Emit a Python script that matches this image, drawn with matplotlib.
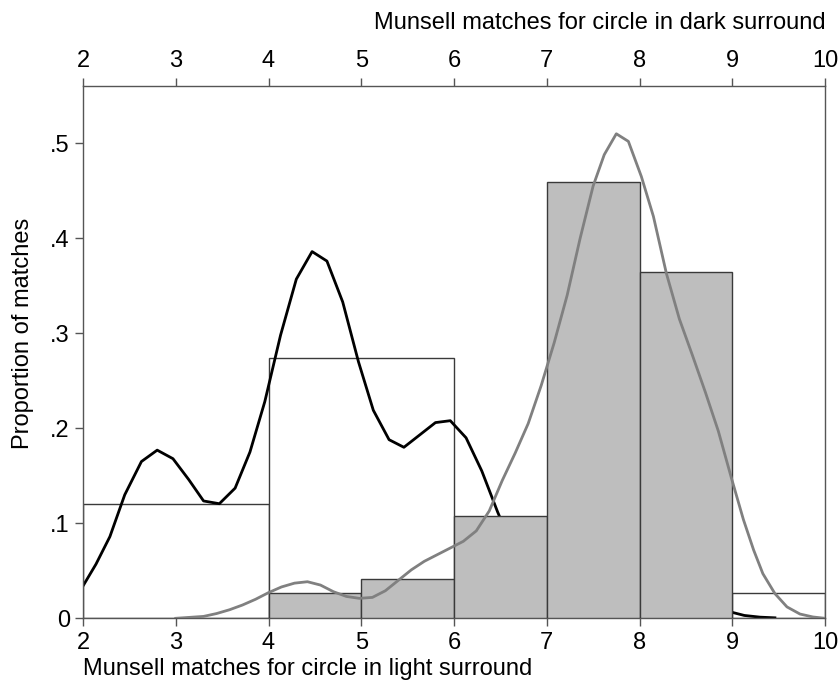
import matplotlib
matplotlib.use("Agg")
import matplotlib.pyplot as plt
import numpy as np

plt.rcParams['font.family'] = ['Liberation Sans', 'DejaVu Sans']

# Histogram: light surround (white bars)
light_edges = [2, 4, 6]
light_heights = [0.12, 0.274]
# extra open bar at 9-10
extra_edges = [9, 10]
extra_heights = [0.027]

# Histogram: dark surround (gray bars)
dark_edges = [4, 5, 6, 7, 8, 9]
dark_heights = [0.027, 0.041, 0.108, 0.459, 0.364]

# Density curve: light surround (black)
light_x = [2.00, 2.14, 2.29, 2.45, 2.63, 2.80, 2.97, 3.14, 3.30, 3.47, 3.64, 3.80,
           3.96, 4.13, 4.30, 4.47, 4.63, 4.80, 4.97, 5.13, 5.30, 5.46, 5.63, 5.80,
           5.96, 6.13, 6.30, 6.47, 6.63, 6.80, 6.97, 7.13, 7.30, 7.47, 7.63, 7.80,
           7.97, 8.13, 8.30, 8.47, 8.63, 8.80, 8.97, 9.13, 9.30, 9.46]
light_y = [0.034, 0.057, 0.086, 0.130, 0.165, 0.177, 0.168, 0.146, 0.1235, 0.1206, 0.137, 0.175,
           0.228, 0.298, 0.357, 0.386, 0.376, 0.333, 0.270, 0.219, 0.188, 0.180, 0.193, 0.206,
           0.208, 0.190, 0.155, 0.112, 0.075, 0.050, 0.035, 0.028, 0.022, 0.018, 0.016, 0.015,
           0.015, 0.014, 0.013, 0.011, 0.010, 0.008, 0.007, 0.003, 0.0012, 0.0005]

# Density curve: dark surround (gray)
dark_x = [3.00, 3.15, 3.30, 3.44, 3.58, 3.72, 3.86, 4.00, 4.14, 4.28, 4.42, 4.56, 4.70,
          4.84, 4.98, 5.12, 5.26, 5.40, 5.54, 5.68, 5.82, 5.96, 6.10, 6.24, 6.38, 6.52,
          6.66, 6.80, 6.94, 7.08, 7.22, 7.36, 7.50, 7.62, 7.75, 7.88, 8.02, 8.15, 8.29,
          8.43, 8.57, 8.71, 8.85, 8.99, 9.12, 9.23, 9.33, 9.46, 9.59, 9.73, 9.87, 10.0]
dark_y = [0.000, 0.001, 0.002, 0.005, 0.009, 0.014, 0.020, 0.027, 0.033, 0.037, 0.0385, 0.035, 0.028,
          0.023, 0.021, 0.022, 0.029, 0.040, 0.051, 0.060, 0.067, 0.074, 0.081, 0.092, 0.113, 0.145,
          0.174, 0.205, 0.245, 0.290, 0.340, 0.400, 0.455, 0.488, 0.510, 0.502, 0.465, 0.423, 0.363,
          0.315, 0.277, 0.238, 0.197, 0.148, 0.104, 0.072, 0.047, 0.026, 0.012, 0.0045, 0.0014, 0.000]

xticks = [2, 3, 4, 5, 6, 7, 8, 9, 10]
yticks = [0, 0.1, 0.2, 0.3, 0.4, 0.5]
yticklabels = ['0', '.1', '.2', '.3', '.4', '.5']

fig = plt.figure(figsize=(8.39, 6.90), dpi=100)
ax = fig.add_axes([83/839, 1 - 618.3/690, (825-83)/839, (618.3-85.7)/690])

edge = '#3a3a3a'
fs = 17

def draw_hist(edges, heights, fc, z):
    ax.bar(edges[:-1], heights, width=np.diff(edges), align='edge',
           facecolor=fc, edgecolor=edge, linewidth=1.0, zorder=z)

draw_hist(light_edges, light_heights, 'white', 1)
draw_hist(extra_edges, extra_heights, 'white', 1)
ax.plot(light_x, light_y, color='black', lw=2.0, zorder=2)
draw_hist(dark_edges, dark_heights, '#bebebe', 3)
ax.plot(dark_x, dark_y, color='#808080', lw=2.0, zorder=4)

ax.set_xlim(2, 10)
ax.set_ylim(0, 0.5606)
ax.set_xticks(xticks)
ax.set_xticklabels([str(t) for t in xticks])
ax.set_yticks(yticks)
ax.set_yticklabels(yticklabels)

for s in ax.spines.values():
    s.set_color('#555555')
    s.set_linewidth(1.0)

ax.tick_params(axis='both', which='both', direction='out', length=6, width=1.0,
               color='#555555', labelsize=fs, pad=3.5)
ax.tick_params(axis='x', top=True, labeltop=True, bottom=True, labelbottom=True, pad=4)

fig.text(23/839, 1 - 333/690, 'Proportion of matches', fontsize=fs, rotation=90,
         ha='center', va='center')
fig.text(83/839, 1 - 675/690, 'Munsell matches for circle in light surround',
         fontsize=fs, ha='left', va='baseline')
fig.text(826/839, 1 - 29/690, 'Munsell matches for circle in dark surround',
         fontsize=fs, ha='right', va='baseline')

fig.savefig('out.png', dpi=100)
